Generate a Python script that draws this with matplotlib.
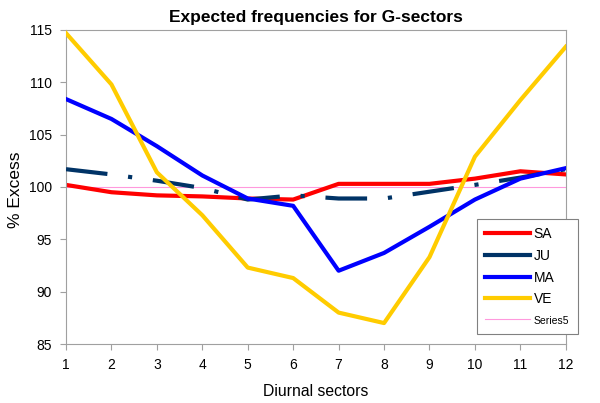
import numpy as np
import matplotlib
matplotlib.use("Agg")
import matplotlib.pyplot as plt

plt.rcParams['font.family'] = ['Liberation Sans', 'DejaVu Sans']

# data
sectors = [1, 2, 3, 4, 5, 6, 7, 8, 9, 10, 11, 12]
sa = [100.2, 99.5, 99.2, 99.1, 98.9, 98.8, 100.3, 100.3, 100.3, 100.8, 101.5, 101.2]
ju = [101.7, 101.2, 100.6, 99.9, 98.8, 99.2, 98.9, 98.9, 99.55, 100.2, 100.9, 101.7]
ma = [108.4, 106.5, 103.9, 101.1, 98.9, 98.2, 92.0, 93.7, 96.2, 98.8, 100.8, 101.8]
ve = [114.7, 109.8, 101.4, 97.3, 92.3, 91.3, 88.0, 87.0, 93.3, 102.9, 108.3, 113.4]
series5 = [100] * 12

fig = plt.figure(figsize=(6, 4.03), dpi=100)
ax = fig.add_axes([0.11, 0.1464, 0.833, 0.7792])

ax.plot(sectors, series5, color='#FF99DD', lw=0.8, label='Series5', zorder=1)
ax.plot(sectors, sa, color='#FF0000', lw=3, label='SA', zorder=2)
ax.plot(sectors, ju, color='#003366', lw=3, dashes=(10, 5, 1, 5), label='JU', zorder=3)
ax.plot(sectors, ma, color='#0000FF', lw=3, label='MA', zorder=4)
ax.plot(sectors, ve, color='#FFCC00', lw=3, label='VE', zorder=5)

ax.set_xlim(1, 12)
ax.set_ylim(85, 115)
ax.set_xticks(sectors)
ax.set_yticks(np.arange(85, 116, 5))
ax.tick_params(direction='out', length=4, color='#A0A0A0', labelsize=10, pad=6)
for s in ax.spines.values():
    s.set_color('#A0A0A0')

ax.set_title('Expected frequencies for G-sectors', fontsize=12.5, fontweight='bold', pad=6)
ax.set_xlabel('Diurnal sectors', fontsize=11.3, labelpad=9)
ax.set_ylabel('% Excess', fontsize=12.5)
ax.yaxis.set_label_coords(-0.086, 0.492)

handles, labels = ax.get_legend_handles_labels()
order = [1, 2, 3, 4, 0]
leg = ax.legend([handles[i] for i in order], [labels[i] for i in order],
                loc='upper left', bbox_to_anchor=(0.822, 0.398), frameon=True,
                fancybox=False, edgecolor='#808080', framealpha=1,
                handlelength=3.2, handletextpad=0.3, labelspacing=0.55,
                borderpad=0.6, borderaxespad=0, fontsize=10)
leg.get_frame().set_linewidth(0.8)
leg.get_texts()[4].set_fontsize(7.5)
leg.get_lines()[1].set_linestyle('-')

fig.savefig('out.png', dpi=100)
